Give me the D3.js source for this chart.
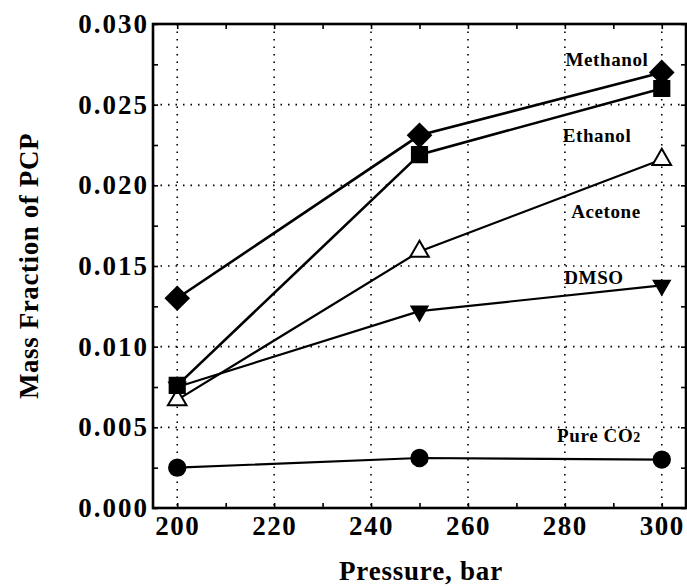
<!DOCTYPE html>
<html><head><meta charset="utf-8">
<script src="https://cdn.jsdelivr.net/npm/d3@7"></script>
<style>body{margin:0;background:#fff}</style>
</head><body><svg id="c" width="687" height="587"></svg>
<script>
const pressures = [200, 250, 300];
const methanol = [0.0130, 0.0231, 0.0270];
const ethanol  = [0.0076, 0.0219, 0.0260];
const acetone  = [0.0067, 0.0159, 0.0216];
const dmso     = [0.0075, 0.0122, 0.0138];
const pureCO2  = [0.0025, 0.0031, 0.0030];
const seriesNames = ["Methanol", "Ethanol", "Acetone", "DMSO", "Pure CO2"];
const xTicks = [200, 220, 240, 260, 280, 300];
const yTicks = [0.000, 0.005, 0.010, 0.015, 0.020, 0.025, 0.030];

const series = [
  {name: "Methanol", vals: methanol, sym: "diamond", fill: "#000", lw: 2.6},
  {name: "Ethanol", vals: ethanol, sym: "square", fill: "#000", lw: 2.6},
  {name: "Acetone", vals: acetone, sym: "tri", fill: "#fff", lw: 2.2},
  {name: "DMSO", vals: dmso, sym: "tridown", fill: "#000", lw: 2.2},
  {name: "Pure CO2", vals: pureCO2, sym: "circle", fill: "#000", lw: 2.2}
];

const svg = d3.select("#c");
const L = 153, R = 686, T = 24, B = 508;
const x = d3.scaleLinear().domain([195, 305]).range([L, R]);
const y = d3.scaleLinear().domain([0, 0.030]).range([B, T]);
const font = "'Liberation Serif', 'DejaVu Serif', serif";

// grid
const g = svg.append("g");
g.selectAll(".gx").data(xTicks).join("line")
  .attr("x1", d => x(d)).attr("x2", d => x(d)).attr("y1", T).attr("y2", B)
  .attr("stroke", "#000").attr("stroke-width", 1.6).attr("stroke-dasharray", "1.5,6");
g.selectAll(".gy").data(yTicks.slice(1, -1)).join("line")
  .attr("x1", L).attr("x2", R).attr("y1", d => y(d)).attr("y2", d => y(d))
  .attr("stroke", "#000").attr("stroke-width", 1.6).attr("stroke-dasharray", "1.5,6");

// axes with inward ticks
const minorY = d3.range(0, 0.0301, 0.0025);
const minorX = d3.range(200, 301, 10);
svg.append("g").attr("transform", `translate(${L},0)`)
  .call(d3.axisRight(y).tickValues(minorY).tickSize(5).tickFormat(""))
  .call(a => a.select(".domain").remove()).selectAll("line").attr("stroke-width", 1.6);
svg.append("g").attr("transform", `translate(${R},0)`)
  .call(d3.axisLeft(y).tickValues(minorY).tickSize(5).tickFormat(""))
  .call(a => a.select(".domain").remove()).selectAll("line").attr("stroke-width", 1.6);
svg.append("g").attr("transform", `translate(0,${B})`)
  .call(d3.axisTop(x).tickValues(minorX).tickSize(5).tickFormat(""))
  .call(a => a.select(".domain").remove()).selectAll("line").attr("stroke-width", 1.6);
svg.append("g").attr("transform", `translate(0,${T})`)
  .call(d3.axisBottom(x).tickValues(minorX).tickSize(5).tickFormat(""))
  .call(a => a.select(".domain").remove()).selectAll("line").attr("stroke-width", 1.6);

// labels
const yl = svg.append("g").attr("transform", `translate(${L},0)`)
  .call(d3.axisLeft(y).tickValues(yTicks).tickSize(0).tickPadding(4).tickFormat(d3.format(".3f")));
yl.select(".domain").remove();
yl.selectAll("text").attr("font-family", font).attr("font-weight", "bold").attr("font-size", 27)
  .attr("letter-spacing", 2).attr("fill", "#000");
const xl = svg.append("g").attr("transform", `translate(0,${B})`)
  .call(d3.axisBottom(x).tickValues(xTicks).tickSize(0).tickPadding(8).tickFormat(d3.format("d")));
xl.select(".domain").remove();
xl.selectAll("text").attr("font-family", font).attr("font-weight", "bold").attr("font-size", 27)
  .attr("letter-spacing", 1.5).attr("fill", "#000");

// frame
svg.append("rect").attr("x", L).attr("y", T).attr("width", R - L).attr("height", B - T)
  .attr("fill", "none").attr("stroke", "#000").attr("stroke-width", 2.6);

// titles
svg.append("text").attr("x", 421).attr("y", 580).attr("text-anchor", "middle")
  .attr("font-family", font).attr("font-weight", "bold").attr("font-size", 27).attr("letter-spacing", 0.8)
  .text("Pressure, bar");
svg.append("text").attr("transform", `translate(38,${(T + B) / 2}) rotate(-90)`).attr("text-anchor", "middle")
  .attr("font-family", font).attr("font-weight", "bold").attr("font-size", 27).attr("letter-spacing", 0.6)
  .text("Mass Fraction of PCP");

// lines
const line = d3.line().x((d, i) => x(pressures[i])).y(d => y(d));
series.forEach(s => {
  svg.append("path").attr("d", line(s.vals)).attr("fill", "none").attr("stroke", "#000").attr("stroke-width", s.lw);
});

// markers
const symMap = {
  diamond: d3.symbol().type(d3.symbolSquare).size(260),
  square: d3.symbol().type(d3.symbolSquare).size(230),
  tri: d3.symbol().type(d3.symbolTriangle).size(150),
  tridown: d3.symbol().type(d3.symbolTriangle).size(110),
  circle: d3.symbol().type(d3.symbolCircle).size(210)
};
series.slice().reverse().forEach(s => {
  s.vals.forEach((v, i) => {
    const rot = s.sym === "diamond" ? 45 : (s.sym === "tridown" ? 180 : 0);
    svg.append("path").attr("d", symMap[s.sym]())
      .attr("transform", `translate(${x(pressures[i])},${y(v)}) rotate(${rot})`)
      .attr("fill", s.fill).attr("stroke", "#000").attr("stroke-width", 2);
  });
});

// series labels
const labelPos = {"Methanol": 0.0274, "Ethanol": 0.0227, "Acetone": 0.0180, "DMSO": 0.0139, "Pure CO2": 0.0041};
const labelX = {"Methanol": 607, "Ethanol": 597, "Acetone": 606, "DMSO": 594, "Pure CO2": 599};
seriesNames.forEach(n => {
  const t = svg.append("text").attr("x", labelX[n]).attr("y", y(labelPos[n])).attr("text-anchor", "middle")
    .attr("font-family", font).attr("font-weight", "bold").attr("font-size", 19).attr("letter-spacing", 0.6);
  if (n === "Pure CO2") {
    t.append("tspan").text("Pure CO");
    t.append("tspan").attr("font-size", 14).text("2");
  } else t.text(n);
});
</script></body></html>
